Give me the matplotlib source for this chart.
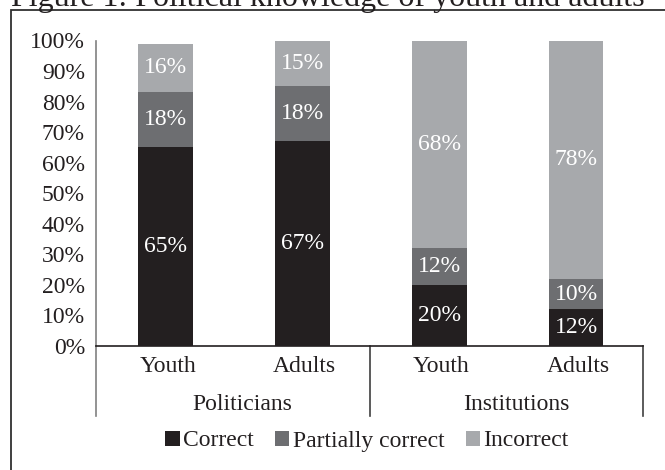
import matplotlib
matplotlib.use("Agg")
import matplotlib.pyplot as plt
from matplotlib.patches import Patch, Rectangle
from matplotlib.lines import Line2D
import numpy as np

# Data
groups = ["Politicians", "Institutions"]
subgroups = ["Youth", "Adults", "Youth", "Adults"]
series = ["Correct", "Partially correct", "Incorrect"]
correct = [65, 67, 20, 12]
partially = [18, 18, 12, 10]
incorrect = [16, 15, 68, 78]
yticks = [0, 10, 20, 30, 40, 50, 60, 70, 80, 90, 100]

colors = ["#231f20", "#6d6e71", "#a7a9ac"]
text_color = "#231f20"

plt.rcParams["font.family"] = ["Liberation Serif", "DejaVu Serif"]
FS = 17

W, H = 665, 470
fig = plt.figure(figsize=(W / 100, H / 100), dpi=100)

# axes placement (pixels from top-left)
left_px, right_px, bottom_px, top_px = 96, 643, 346, 40.5
ax = fig.add_axes([left_px / W, 1 - bottom_px / H,
                   (right_px - left_px) / W, (bottom_px - top_px) / H])

x = np.arange(len(subgroups))
width = 0.40
stack = [correct, partially, incorrect]
bottom = np.zeros(len(subgroups))
for vals, col, name in zip(stack, colors, series):
    vals = np.array(vals, dtype=float)
    ax.bar(x + 0.01, vals, width, bottom=bottom, color=col, label=name, linewidth=0)
    for xi, b, v in zip(x, bottom, vals):
        ax.text(xi + 0.01, b + v / 2, f"{int(v)}%", ha="center", va="center",
                color="white", fontsize=FS)
    bottom += vals

ax.set_xlim(-0.5, len(subgroups) - 0.5)
ax.set_ylim(0, 100)
ax.set_yticks(yticks)
ax.set_yticklabels([f"{t}%" for t in yticks])
ax.tick_params(axis="y", length=0, pad=8, labelsize=FS, labelcolor=text_color)
ax.set_xticks([])
for s in ["top", "right"]:
    ax.spines[s].set_visible(False)
ax.spines["left"].set_color("#808080")
ax.spines["left"].set_linewidth(1.2)
ax.spines["bottom"].set_color(text_color)
ax.spines["bottom"].set_linewidth(1.2)

# Category labels (two levels)
trans = ax.get_xaxis_transform()
span = bottom_px - top_px
lab_depth = (416 - bottom_px) / span
for xi, name in zip(x, subgroups):
    ax.text(xi + 0.025, -(367 - bottom_px) / span, name, transform=trans,
            ha="center", va="center", fontsize=FS, color=text_color)
for gi, name in enumerate(groups):
    ax.text(gi * 2 + 0.57, -(405 - bottom_px) / span, name,
            transform=trans, ha="center", va="center", fontsize=FS, color=text_color)

# Group separators below the axis
for xs in [-0.5, 1.5, 3.5]:
    ax.add_line(Line2D([xs, xs], [0, -lab_depth], transform=trans,
                       color="#808080" if xs == -0.5 else "#404040",
                       linewidth=1.2, clip_on=False))

# Legend
handles = [Patch(facecolor=c, edgecolor="none", label=n) for c, n in zip(colors, series)]
fig.legend(handles=handles, loc="center", bbox_to_anchor=(367 / W, 1 - 441 / H),
           ncol=3, frameon=False, fontsize=FS, handlelength=0.6, handleheight=0.6,
           handletextpad=0.15, columnspacing=0.9, labelcolor=text_color)

# Outer frame and title
fig.patches.append(Rectangle((11 / W, -0.1), 1.2, 1 - 10 / H + 0.1,
                             transform=fig.transFigure, fill=False,
                             edgecolor="#303030", linewidth=1.3))
fig.text(11 / W, 1 - 6 / H, "Figure 1: Political knowledge of youth and adults",
         ha="left", va="baseline", fontsize=23, color=text_color)

fig.savefig("out.png", dpi=100)
